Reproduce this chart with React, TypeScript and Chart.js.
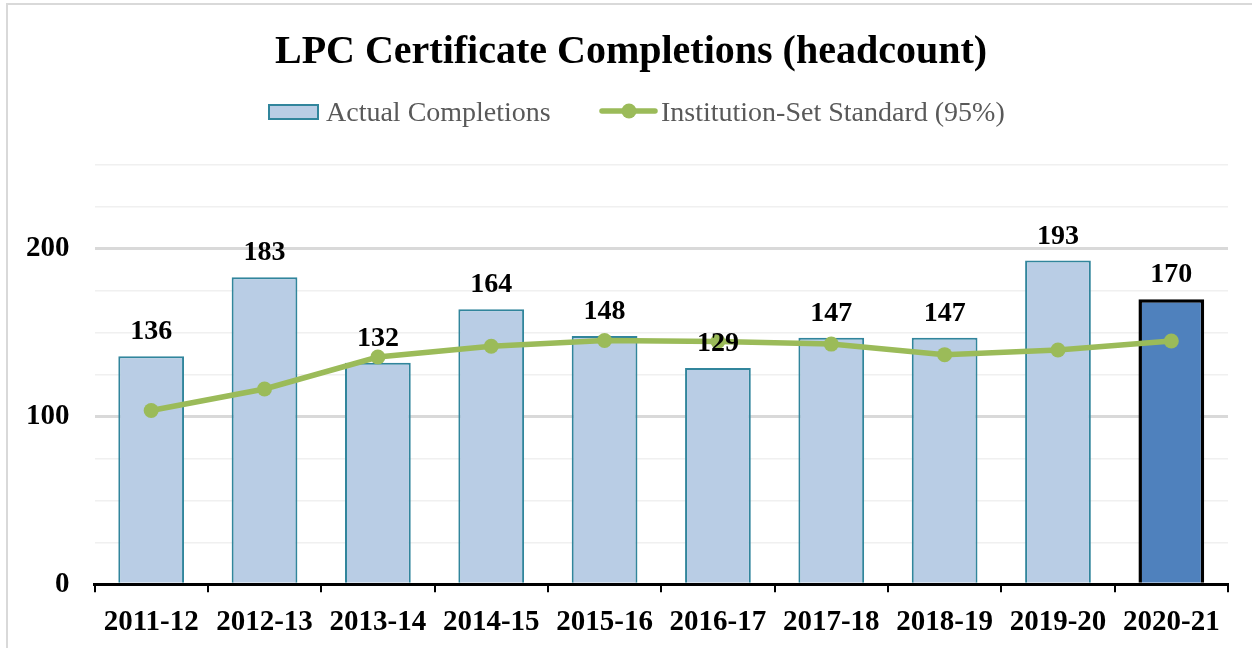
import React, { useEffect, useRef } from "react";
import { Chart, registerables } from "chart.js";

Chart.register(...registerables);

const categories = ["2011-12", "2012-13", "2013-14", "2014-15", "2015-16", "2016-17", "2017-18", "2018-19", "2019-20", "2020-21"];
const actualCompletions = [136, 183, 132, 164, 148, 129, 147, 147, 193, 170];
const institutionStandard = [103.6, 116.4, 135.5, 141.9, 145.3, 144.8, 143.2, 136.9, 139.7, 145.0];
const yTickLabels = [0, 100, 200];

const titleText = "LPC Certificate Completions (headcount)";
const barLabel = "Actual Completions";
const lineLabel = "Institution-Set Standard (95%)";

const SERIF = "'Liberation Serif', 'Times New Roman', serif";
const BAR_FILL = "#B9CDE5";
const BAR_BORDER = "#31859C";
const LAST_FILL = "#4F81BD";
const LINE_COLOR = "#9BBB59";

export default function App() {
  const ref = useRef<HTMLCanvasElement | null>(null);

  useEffect(() => {
    if (!ref.current) return;
    const last = categories.length - 1;

    const decor = {
      id: "decor",
      beforeDraw(chart: any) {
        const ctx = chart.ctx;
        ctx.save();
        ctx.fillStyle = "#ffffff";
        ctx.fillRect(0, 0, chart.width, chart.height);
        ctx.strokeStyle = "#D9D9D9";
        ctx.lineWidth = 2;
        ctx.strokeRect(7, 4, 3000, 3000);
        ctx.restore();
      },
      afterDatasetsDraw(chart: any) {
        const ctx = chart.ctx;
        ctx.save();
        // data labels
        const meta = chart.getDatasetMeta(0);
        ctx.fillStyle = "#000";
        ctx.font = `bold 28px ${SERIF}`;
        ctx.textAlign = "center";
        ctx.textBaseline = "alphabetic";
        meta.data.forEach((el: any, i: number) => {
          ctx.fillText(String(actualCompletions[i]), el.x, el.y - 17);
        });
        // title
        ctx.font = `bold 40px ${SERIF}`;
        ctx.fillText(titleText, 631, 63);
        // legend
        ctx.fillStyle = BAR_FILL;
        ctx.fillRect(269, 105, 49, 14);
        ctx.strokeStyle = BAR_BORDER;
        ctx.lineWidth = 2;
        ctx.strokeRect(269, 105, 49, 14);
        ctx.font = `28px ${SERIF}`;
        ctx.fillStyle = "#595959";
        ctx.textAlign = "left";
        ctx.fillText(barLabel, 326, 121);
        ctx.strokeStyle = LINE_COLOR;
        ctx.lineWidth = 5.5;
        ctx.lineCap = "round";
        ctx.beginPath();
        ctx.moveTo(602, 111);
        ctx.lineTo(655, 111);
        ctx.stroke();
        ctx.fillStyle = LINE_COLOR;
        ctx.beginPath();
        ctx.arc(629, 111, 7.5, 0, Math.PI * 2);
        ctx.fill();
        ctx.fillStyle = "#595959";
        ctx.fillText(lineLabel, 661, 121);
        ctx.restore();
      },
    };

    const chart = new Chart(ref.current, {
      type: "bar",
      data: {
        labels: categories,
        datasets: [
          {
            type: "bar",
            label: barLabel,
            data: actualCompletions,
            backgroundColor: actualCompletions.map((_, i) => (i === last ? LAST_FILL : BAR_FILL)),
            borderColor: actualCompletions.map((_, i) => (i === last ? "#000000" : BAR_BORDER)),
            borderWidth: actualCompletions.map((_, i) => (i === last ? 3.5 : 2)),
            categoryPercentage: 1,
            barPercentage: 0.58,
            order: 1,
          } as any,
          {
            type: "line",
            label: lineLabel,
            data: institutionStandard,
            borderColor: LINE_COLOR,
            backgroundColor: LINE_COLOR,
            borderWidth: 5.5,
            pointRadius: 7.5,
            pointBackgroundColor: LINE_COLOR,
            pointBorderWidth: 0,
            tension: 0,
            order: 0,
          } as any,
        ],
      },
      options: {
        responsive: false,
        animation: false,
        layout: { padding: { top: 165, left: 1, right: 24, bottom: -5 } },
        plugins: {
          legend: { display: false },
          title: { display: false },
          tooltip: { enabled: false },
        },
        scales: {
          x: {
            grid: {
              display: true,
              drawOnChartArea: false,
              drawTicks: true,
              tickLength: 8,
              color: "#000000",
              lineWidth: 2,
            },
            border: { display: true, color: "#000000", width: 3 },
            ticks: {
              color: "#000000",
              font: { family: SERIF, size: 29, weight: "bold" },
              padding: 13,
              maxRotation: 0,
              autoSkip: false,
            },
          },
          y: {
            min: 0,
            max: 250,
            grid: {
              drawTicks: false,
              color: (c: any) => (yTickLabels.includes(c.tick?.value) ? "#D9D9D9" : "#F0F0F0"),
              lineWidth: (c: any) => (yTickLabels.includes(c.tick?.value) ? 3 : 1.5),
            },
            border: { display: false },
            ticks: {
              stepSize: 25,
              color: "#000000",
              font: { family: SERIF, size: 29, weight: "bold" },
              padding: 25,
              callback: (v: any) => (yTickLabels.includes(Number(v)) ? String(v) : ""),
            },
          },
        },
      } as any,
      plugins: [decor],
    });

    return () => chart.destroy();
  }, []);

  return (
    <div style={{ position: "fixed", left: 0, top: 0, width: 1252, height: 648, overflow: "hidden", background: "#fff" }}>
      <canvas ref={ref} width={1252} height={648} style={{ display: "block" }} />
    </div>
  );
}
